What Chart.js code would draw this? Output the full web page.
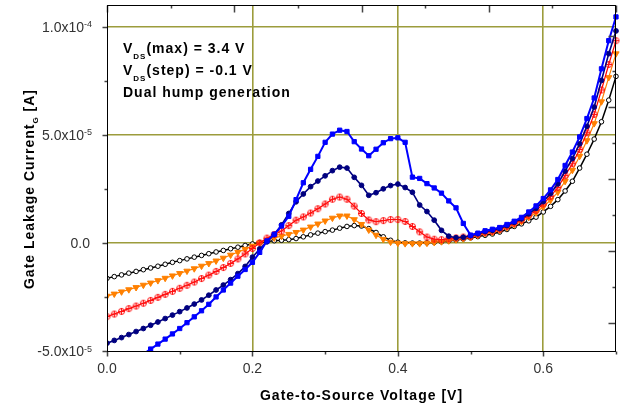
<!DOCTYPE html>
<html>
<head>
<meta charset="utf-8">
<script src="https://cdn.jsdelivr.net/npm/chart.js@4/dist/chart.umd.min.js"></script>
<style>
  html, body { margin: 0; padding: 0; background: #fff; }
</style>
</head>
<body>
<canvas id="leak" width="631" height="410"></canvas>
<script>
// Gate-source sweep [V]
const vgs = [0.00, 0.01, 0.02, 0.03, 0.04, 0.05, 0.06, 0.07, 0.08, 0.09,
             0.10, 0.11, 0.12, 0.13, 0.14, 0.15, 0.16, 0.17, 0.18, 0.19,
             0.20, 0.21, 0.22, 0.23, 0.24, 0.25, 0.26, 0.27, 0.28, 0.29,
             0.30, 0.31, 0.32, 0.33, 0.34, 0.35, 0.36, 0.37, 0.38, 0.39,
             0.40, 0.41, 0.42, 0.43, 0.44, 0.45, 0.46, 0.47, 0.48, 0.49,
             0.50, 0.51, 0.52, 0.53, 0.54, 0.55, 0.56, 0.57, 0.58, 0.59,
             0.60, 0.61, 0.62, 0.63, 0.64, 0.65, 0.66, 0.67, 0.68, 0.69, 0.70];

// Gate leakage current per VDS sweep, in uA (1e-6 A)
const igBlue = [null, null, null, null, null, -51.4, -49.1, -46.8, -44.5, -42.1,
                -39.6, -36.9, -34.2, -31.4, -28.4, -25.0, -21.8, -18.6, -15.4, -12.3,
                -9.0, -4.4, 0.9, 4.0, 7.8, 12.3, 20.0, 27.8, 34.0, 40.0,
                46.5, 50.3, 52.1, 51.5, 46.8, 43.4, 40.3, 43.3, 46.3, 48.2,
                48.6, 46.5, 30.4, 29.8, 27.4, 25.4, 23.0, 19.4, 16.2, 9.0,
                3.6, 4.5, 5.6, 6.3, 7.1, 8.5, 10.0, 11.8, 14.3, 17.1,
                20.5, 24.5, 29.3, 35.8, 42.0, 49.0, 57.5, 67.0, 80.5, 93.5, 104.5];

const igNavy = [-46.4, -45.1, -43.8, -42.4, -41.0, -39.6, -38.1, -36.6, -35.0, -33.4,
                -31.8, -30.1, -28.3, -26.4, -24.2, -21.8, -19.5, -17.0, -14.2, -10.9,
                -6.6, -2.8, 0.5, 3.8, 8.3, 13.6, 19.0, 22.6, 26.0, 28.6,
                31.0, 33.4, 35.0, 34.6, 30.3, 26.6, 22.0, 23.2, 25.0, 26.5,
                27.2, 25.6, 23.4, 17.5, 14.5, 10.5, 5.8, 3.1, 2.4, 2.6,
                3.3, 4.2, 5.2, 5.8, 6.6, 8.0, 9.5, 11.1, 13.4, 16.0,
                19.1, 22.8, 27.3, 33.2, 39.0, 45.8, 53.9, 62.8, 75.1, 87.5, 98.0];

const igRed = [-34.1, -32.9, -31.7, -30.4, -29.2, -27.9, -26.6, -25.2, -23.8, -22.4,
               -21.0, -19.6, -18.1, -16.5, -14.9, -13.2, -11.4, -9.5, -7.4, -5.1,
               -2.6, 0.0, 2.2, 3.9, 5.5, 8.0, 10.5, 12.0, 13.8, 15.8,
               18.0, 20.2, 21.2, 20.2, 17.0, 13.6, 10.6, 9.8, 10.3, 10.8,
               10.8, 9.9, 7.6, 5.1, 2.7, 1.7, 1.5, 1.9, 2.3, 2.7,
               3.0, 3.9, 4.8, 5.4, 6.3, 7.6, 9.0, 10.6, 12.7, 15.0,
               18.0, 21.5, 25.6, 31.1, 36.6, 43.2, 50.9, 59.4, 70.7, 82.5, 93.5];

const igOrange = [-24.6, -23.6, -22.6, -21.6, -20.6, -19.5, -18.5, -17.4, -16.3, -15.2,
                  -14.1, -13.0, -11.9, -10.7, -9.5, -8.3, -7.0, -5.6, -4.3, -2.9,
                  -1.4, 0.0, 1.3, 2.3, 3.1, 4.0, 4.9, 6.0, 7.4, 8.8,
                  10.2, 11.5, 12.5, 12.5, 10.8, 8.6, 6.0, 3.6, 1.7, 0.4,
                  -0.1, -0.3, -0.3, -0.3, -0.1, 0.2, 0.6, 1.0, 1.5, 2.0,
                  2.6, 3.6, 4.4, 4.9, 5.8, 7.1, 8.5, 9.9, 11.8, 13.9,
                  16.7, 19.8, 23.5, 28.5, 33.6, 40.1, 47.3, 55.2, 65.3, 76.5, 87.5];

const igBlack = [-16.4, -15.6, -14.8, -14.0, -13.2, -12.4, -11.6, -10.8, -9.9, -9.0,
                 -8.2, -7.4, -6.6, -5.8, -5.0, -4.2, -3.5, -2.7, -2.0, -1.2,
                 -0.5, 0.1, 0.6, 1.0, 1.2, 1.5, 2.0, 2.8, 3.7, 4.5,
                 5.2, 5.9, 6.8, 7.6, 8.0, 7.8, 6.6, 4.8, 2.8, 1.2,
                 0.3, 0.0, -0.1, -0.1, 0.0, 0.2, 0.5, 0.9, 1.3, 1.8,
                 2.3, 2.9, 3.5, 4.1, 5.0, 6.2, 7.6, 8.8, 10.2, 11.9,
                 14.3, 16.9, 20.0, 24.0, 28.5, 34.6, 41.0, 48.0, 56.0, 66.0, 77.0];

// y tick labels, written as mantissa + exponent
const yLabelValues = [100, 50, 0, -50];
const yLabelMantissa = ['1.0x10', '5.0x10', '0.0', '-5.0x10'];
const yLabelExponent = ['-4', '-5', '', '-5'];

// unlabelled ticks on the top and right frame
const frameTicks = [0, 1, 2, 3, 4, 5, 6, 7, 8];

const noteLines = [
  ['V', 'DS', '(max) = 3.4 V'],
  ['V', 'DS', '(step) = -0.1 V'],
  ['Dual hump generation']
];

const FAMILY = '"Liberation Sans", Arial, sans-serif';
const GRID = '#9c9c3c';
const pts = arr => vgs.map((v, i) => ({ x: v, y: arr[i] }));

// circle with a plus inside, for the red series
function crossCircle(color) {
  const c = document.createElement('canvas');
  c.width = 9; c.height = 9;
  const g = c.getContext('2d');
  g.strokeStyle = color;
  g.lineWidth = 1;
  g.beginPath();
  g.arc(4.5, 4.5, 3, 0, Math.PI * 2);
  g.moveTo(4.5, 1); g.lineTo(4.5, 8);
  g.moveTo(1, 4.5); g.lineTo(8, 4.5);
  g.stroke();
  return c;
}

// draws a row of [text, font, dy] pieces, returns the end x
function drawRun(ctx, x, y, parts) {
  parts.forEach(([t, font, dy]) => {
    ctx.font = font;
    ctx.fillText(t, x, y + dy);
    x += ctx.measureText(t).width;
  });
  return x;
}
function runWidth(ctx, parts) {
  let w = 0;
  parts.forEach(([t, font]) => { ctx.font = font; w += ctx.measureText(t).width; });
  return w;
}

const decor = {
  id: 'decor',
  afterDraw(chart) {
    const { ctx, chartArea: a, scales: { x, y, x2, y2 } } = chart;
    const L = Math.round(a.left) + 0.5, R = Math.round(a.right) - 0.5;
    const T = Math.round(a.top) + 0.5, B = Math.round(a.bottom) + 0.5;
    ctx.save();

    // tick marks: outward on left/bottom, inward on top/right
    ctx.strokeStyle = '#444';
    ctx.lineWidth = 1.5;
    ctx.beginPath();
    x.ticks.forEach(t => {
      const px = Math.round(x.getPixelForValue(t.value)) + 0.5;
      const len = Math.round(t.value * 10) % 2 === 0 ? 5 : 3;
      ctx.moveTo(px, B); ctx.lineTo(px, B + len);
    });
    y.ticks.forEach(t => {
      if (t.value % 25) return;
      const py = Math.round(y.getPixelForValue(t.value)) + 0.5;
      const len = t.value % 50 === 0 ? 5 : 3;
      ctx.moveTo(L, py); ctx.lineTo(L - len, py);
    });
    frameTicks.forEach(k => {
      const len = k % 2 ? 3 : 7;
      const px = Math.round(x2.getPixelForValue(k)) + 0.5;
      ctx.moveTo(px, T); ctx.lineTo(px, T + len);
      const py = Math.round(y2.getPixelForValue(k)) + 0.5;
      ctx.moveTo(R, py); ctx.lineTo(R - len, py);
    });
    ctx.stroke();

    ctx.strokeStyle = '#000';
    ctx.lineWidth = 1;
    ctx.strokeRect(L, T, R - L, B - T);

    // y tick labels with superscript exponents
    ctx.fillStyle = '#333';
    ctx.textBaseline = 'alphabetic';
    ctx.textAlign = 'left';
    yLabelValues.forEach((v, i) => {
      const py = y.getPixelForValue(v);
      const parts = [[yLabelMantissa[i], '14px ' + FAMILY, 5]];
      if (yLabelExponent[i]) parts.push([yLabelExponent[i], '9px ' + FAMILY, 0.5]);
      const right = yLabelExponent[i] ? 92 : 90;
      drawRun(ctx, right - runWidth(ctx, parts), py, parts);
    });

    // annotation block
    const big = 'bold 14px ' + FAMILY, small = 'bold 8px ' + FAMILY;
    ctx.fillStyle = '#000';
    ctx.letterSpacing = '1px';
    noteLines.forEach((line, i) => {
      const base = 53 + i * 22;
      const parts = line.length === 3
        ? [[line[0], big, 0], [line[1], small, 6], [line[2], big, 0]]
        : [[line[0], big, 0]];
      drawRun(ctx, 123, base, parts);
    });

    // axis titles
    const xTitle = [['Gate-to-Source Voltage [V]', big, 0]];
    drawRun(ctx, (a.left + a.right) / 2 - runWidth(ctx, xTitle) / 2, 400, xTitle);

    const yTitle = [['Gate Leakage Current', big, 0], ['G', 'bold 8px ' + FAMILY, 4], [' [A]', big, 0]];
    ctx.translate(33.5, 189);
    ctx.rotate(-Math.PI / 2);
    drawRun(ctx, -runWidth(ctx, yTitle) / 2, 0, yTitle);

    ctx.restore();
  }
};

const series = [
  { data: igBlue, color: '#0000ff', style: 'rect', r: 3, lw: 2 },
  { data: igNavy, color: '#000080', style: 'circle', r: 2.4, lw: 1.6 },
  { data: igRed, color: '#ff0000', style: crossCircle('#ff1010'), r: 4, lw: 1.2 },
  { data: igOrange, color: '#ff8000', style: 'triangle', r: 3.6, lw: 1.2, rot: 180 },
  { data: igBlack, color: '#000000', style: 'circle', r: 2.3, lw: 1.5, fill: '#ffffff' }
];

new Chart(document.getElementById('leak'), {
  type: 'line',
  data: {
    datasets: series.map(s => ({
      data: pts(s.data),
      borderColor: s.color,
      borderWidth: s.lw,
      pointStyle: s.style,
      pointRadius: s.r,
      pointRotation: s.rot || 0,
      pointBackgroundColor: s.fill || s.color,
      pointBorderColor: s.color,
      pointBorderWidth: 1,
      tension: 0,
      spanGaps: false,
      clip: { left: 0, top: 4, right: 5, bottom: 0 }
    }))
  },
  options: {
    responsive: false,
    animation: false,
    layout: { padding: { top: 4, right: 15, bottom: 0, left: 0 } },
    plugins: { legend: { display: false }, tooltip: { enabled: false } },
    scales: {
      x: {
        type: 'linear',
        min: 0,
        max: 0.7,
        afterFit: s => { s.height = 59; },
        border: { display: false },
        grid: {
          drawTicks: false,
          lineWidth: 1.6,
          color: c => [2, 4, 6].includes(Math.round(c.tick.value * 10)) ? GRID : 'rgba(0,0,0,0)'
        },
        ticks: {
          stepSize: 0.1,
          padding: 10,
          color: '#333',
          font: { family: FAMILY, size: 14 },
          maxRotation: 0,
          autoSkip: false,
          callback: v => Math.round(v * 10) % 2 === 0 && v < 0.65 ? v.toFixed(1) : ''
        }
      },
      y: {
        min: -50,
        max: 110,
        afterFit: s => { s.width = 107; },
        border: { display: false },
        grid: {
          drawTicks: false,
          lineWidth: 1.6,
          color: c => [0, 50, 100].includes(c.tick.value) ? GRID : 'rgba(0,0,0,0)'
        },
        ticks: { stepSize: 25, display: false }
      },
      x2: { type: 'linear', position: 'top', display: false, min: 0, max: 8 },
      y2: { type: 'linear', position: 'right', display: false, min: -0.789, max: 8.85 }
    }
  },
  plugins: [decor]
});
</script>
</body>
</html>
